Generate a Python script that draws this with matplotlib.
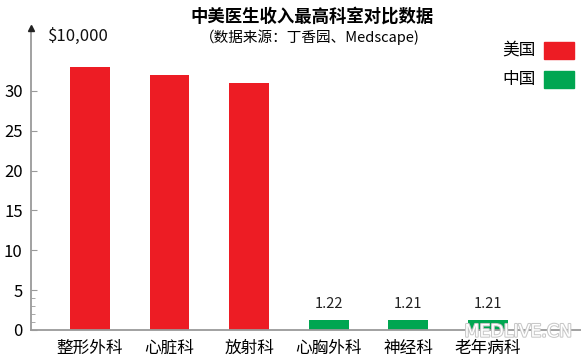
import numpy as np
import matplotlib
matplotlib.use('Agg')
from matplotlib import pyplot as plt
from matplotlib import patheffects as pe

plt.rcParams['font.family'] = ['Noto Sans CJK SC', 'DejaVu Sans']

departments = ['整形外科', '心脏科', '放射科', '心胸外科', '神经科', '老年病科']
incomes = [33.0, 32.0, 31.0, 1.22, 1.21, 1.21]
countries = ['美国', '美国', '美国', '中国', '中国', '中国']
value_labels = ['', '', '', '1.22', '1.21', '1.21']
legend_names = ['美国', '中国']

colors = {'美国': '#ED1C24', '中国': '#00A651'}
axis_gray = '#9a9a9a'

fig = plt.figure(figsize=(5.81, 3.62), dpi=100)
ax = fig.add_axes([0.0534, 0.0884, 0.9466, 0.8343])

x = np.arange(len(departments))
ax.bar(x, incomes, width=0.5, color=[colors[c] for c in countries], zorder=2)

for xi, v, lab in zip(x, incomes, value_labels):
    if lab:
        ax.annotate(lab, (xi, v), xytext=(0, 7), textcoords='offset points',
                    ha='center', va='bottom', fontsize=10.5, color='#222222')

ax.set_xlim(-0.74, 6.17)
ax.set_ylim(0, 37.9)
ax.set_yticks([0, 5, 10, 15, 20, 25, 30])
ax.set_yticks([1, 2, 3, 4], minor=True)
ax.set_xticks(x)
ax.set_xticklabels(departments, fontsize=12)

for s in ['top', 'right']:
    ax.spines[s].set_visible(False)
ax.spines['left'].set_color(axis_gray)
ax.spines['bottom'].set_color(axis_gray)
ax.spines['left'].set_linewidth(1.3)
ax.spines['bottom'].set_linewidth(1.3)

ax.tick_params(axis='y', which='major', direction='in', length=4, color=axis_gray,
               labelsize=12, pad=6)
ax.tick_params(axis='y', which='minor', direction='in', length=3, color=axis_gray)
ax.tick_params(axis='x', length=0, pad=7)

# arrow at the top of the y axis
ax.plot([0], [1.0], marker='^', color='#222222', markersize=5,
        transform=ax.transAxes, clip_on=False, zorder=5)

fig.text(0.083, 0.90, '$10,000', fontsize=12, ha='left', va='center', color='#111111')

fig.text(0.537, 0.953, '中美医生收入最高科室对比数据', fontsize=12.5, fontweight='bold',
         ha='center', va='center')
fig.text(0.534, 0.898, '（数据来源：丁香园、Medscape)', fontsize=10.5,
         ha='center', va='center')

# legend
for i, name in enumerate(legend_names):
    yc = 0.861 - i * 0.08
    fig.patches.append(plt.Rectangle((0.936, yc - 0.024), 0.052, 0.048,
                                     transform=fig.transFigure, color=colors[name]))
    fig.text(0.922, yc, name, fontsize=12, ha='right', va='center')

# watermark
fig.text(0.985, 0.07, 'MEDLIVE.CN', fontsize=12.5, ha='right', va='baseline',
         color='white', family='DejaVu Sans', zorder=10,
         path_effects=[pe.withStroke(linewidth=1.5, foreground='#c8c8c8')])

fig.savefig('out.png', dpi=100)
